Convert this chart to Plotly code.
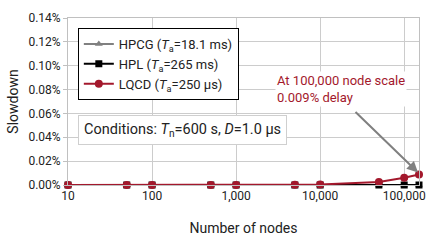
import math
import plotly.graph_objects as go

nodes = [10, 50, 100, 500, 1000, 5000, 10000, 50000, 100000, 150000]
hpcg = [0, 0, 0, 0, 0, 0, 0, 0, 0, 0]
hpl = [0, 0, 0, 0, 0, 0, 0, 0, 0, 0]
lqcd = [0, 0, 0, 0, 0, 0.0002, 0.0004, 0.0025, 0.006, 0.0088]
x_ticks = [10, 100, 1000, 10000, 100000]
x_labels = ["10", "100", "1,000", "10,000", "100,000"]
y_ticks = [0, 0.02, 0.04, 0.06, 0.08, 0.10, 0.12, 0.14]
y_labels = ["0.00%", "0.02%", "0.04%", "0.06%", "0.08%", "0.10%", "0.12%", "0.14%"]

RED = "#A3182C"
GRAY = "#808080"
FONT = "Roboto"
TXT = "#222222"

fig = go.Figure()
fig.add_trace(go.Scatter(x=nodes, y=hpcg, mode="lines+markers", cliponaxis=False,
                         name="HPCG (<i>T</i><sub>a</sub>=18.1 ms)",
                         line=dict(color=GRAY, width=2),
                         marker=dict(symbol="triangle-up", size=7, color=GRAY)))
fig.add_trace(go.Scatter(x=nodes, y=hpl, mode="lines+markers", cliponaxis=False,
                         name="HPL (<i>T</i><sub>a</sub>=265 ms)",
                         line=dict(color="black", width=2),
                         marker=dict(symbol="square", size=7, color="black")))
fig.add_trace(go.Scatter(x=nodes, y=lqcd, mode="lines+markers", cliponaxis=False,
                         name="LQCD (<i>T</i><sub>a</sub>=250 μs)",
                         line=dict(color=RED, width=2),
                         marker=dict(symbol="circle", size=8, color=RED)))

fig.update_layout(
    width=430, height=240,
    margin=dict(l=68, r=11, t=18, b=55),
    paper_bgcolor="white", plot_bgcolor="white",
    font=dict(family=FONT, size=12, color=TXT),
    showlegend=True,
    legend=dict(x=0.028, y=0.94, xanchor="left", yanchor="top",
                bgcolor="white", bordercolor="black", borderwidth=1,
                font=dict(family=FONT, size=13, color=TXT),
                tracegroupgap=0, itemwidth=30),
)
fig.update_xaxes(type="log", range=[1, math.log10(150000)], automargin=False,
                 tickvals=x_ticks, ticktext=x_labels,
                 showgrid=True, gridcolor="#cccccc", gridwidth=1,
                 showline=True, linecolor="#c0c0c0", mirror=True,
                 ticks="", tickfont=dict(size=12, color=TXT),
                 title=dict(text="Number of nodes", font=dict(size=14, color=TXT), standoff=20),
                 zeroline=False)
fig.update_yaxes(range=[0, 0.14], tickvals=y_ticks, ticktext=y_labels, automargin=False,
                 showgrid=True, gridcolor="#cccccc", gridwidth=1,
                 showline=True, linecolor="#c0c0c0", mirror=True,
                 ticks="outside", ticklen=4, tickcolor="#c0c0c0",
                 tickfont=dict(size=12, color=TXT),
                 title=dict(text="Slowdown", font=dict(size=14, color=TXT), standoff=6),
                 zeroline=False)

fig.add_annotation(xref="paper", yref="paper", x=0.028, y=0.24, xanchor="left", yanchor="bottom",
                   text="Conditions: <i>T</i><sub>n</sub>=600 s, <i>D</i>=1.0 μs",
                   showarrow=False, bgcolor="white", bordercolor="#cfcfcf", borderwidth=1,
                   borderpad=5, font=dict(family=FONT, size=14.5, color=TXT))
fig.add_annotation(xref="paper", yref="paper", x=0.59, y=0.465, xanchor="left", yanchor="bottom",
                   text="At 100,000 node scale<br>0.009% delay", align="left",
                   showarrow=False, bgcolor="white",
                   font=dict(family=FONT, size=13, color=RED))
fig.add_annotation(x=math.log10(146000), y=0.0105, xref="x", yref="y",
                   ax=-64, ay=-62, axref="pixel", ayref="pixel",
                   text="", showarrow=True, arrowhead=2, arrowsize=1.1, arrowwidth=2,
                   arrowcolor=GRAY)

fig.write_html("out.html")
